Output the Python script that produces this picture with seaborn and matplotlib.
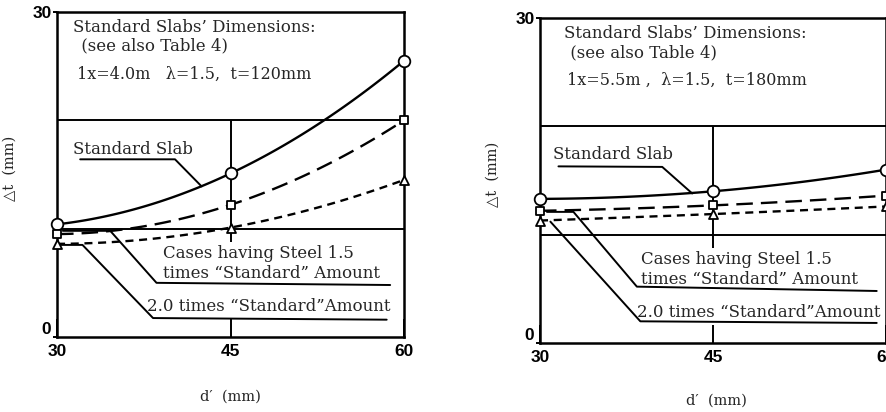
import pandas as pd
import matplotlib
matplotlib.use("Agg")
import matplotlib.pyplot as plt
import seaborn as sns

# Cover thickness d' (mm) and resulting deflection increment Δt (mm)
d_prime = [30, 45, 60]

# Slab lx = 4.0 m, t = 120 mm
std_a = [10.4, 15.1, 25.5]
x15_a = [9.5, 12.2, 20.0]
x20_a = [8.6, 10.1, 14.5]

# Slab lx = 5.5 m, t = 180 mm
std_b = [13.3, 14.0, 16.0]
x15_b = [12.2, 12.7, 13.6]
x20_b = [11.3, 11.9, 12.6]

x_ticks = [30, 45, 60]
y_ticks = [0, 30]
ref_lines = [10, 20]
slab_notes = ["1x=4.0m   λ=1.5,  t=120mm", "1x=5.5m ,  λ=1.5,  t=180mm"]
header = ["Standard Slabs’ Dimensions:", " (see also Table 4)"]

sns.set_theme(style="white")
plt.rcParams["font.family"] = ["DejaVu Serif", "DejaVu Sans"]
TICK_FONT = dict(family=["Liberation Sans Narrow", "Liberation Sans", "DejaVu Sans"],
                 weight="bold", size=12.5)
TXT = 12

fig = plt.figure(figsize=(8.87, 4.12), dpi=100)
ax_a = fig.add_axes([0.0643, 0.182, 0.3912, 0.789])
ax_b = fig.add_axes([0.6088, 0.1675, 0.3900, 0.789])

styles = {
    "std": dict(marker="o", s=70, ls="-"),
    "x15": dict(marker="s", s=34, ls=(0, (7.0, 3.4))),
    "x20": dict(marker="^", s=42, ls=(0, (3.4, 2.4))),
}


def draw_panel(ax, std, x15, x20, note, layout):
    df = pd.DataFrame({
        "d": d_prime * 3,
        "dt": std + x15 + x20,
        "case": ["std"] * 3 + ["x15"] * 3 + ["x20"] * 3,
    })
    for ln in ref_lines:
        ax.axhline(ln, color="black", lw=1.4, zorder=1)
    ax.vlines(45, 8.8, 20, color="black", lw=1.4, zorder=1)

    for case, st in styles.items():
        sub = df[df["case"] == case]
        sns.regplot(data=sub, x="d", y="dt", order=2, ci=None, scatter=False, ax=ax,
                    line_kws=dict(color="black", lw=1.7, ls=st["ls"], zorder=3))
    for case, st in styles.items():
        sub = df[df["case"] == case]
        sns.scatterplot(data=sub, x="d", y="dt", marker=st["marker"], s=st["s"],
                        facecolor="white", edgecolor="black", linewidth=1.3,
                        zorder=5, clip_on=False, ax=ax, legend=False)

    ax.set_xlim(30, 60)
    ax.set_ylim(0, 30)
    ax.set_xticks(x_ticks)
    ax.set_yticks(y_ticks)
    ax.set_xticklabels([str(v) for v in x_ticks], **TICK_FONT)
    ax.set_yticklabels([str(v) for v in y_ticks], **TICK_FONT)
    ax.get_yticklabels()[0].set_va("bottom")
    ax.tick_params(axis="x", direction="in", length=13, width=1.4, pad=5,
                   bottom=True, colors="black")
    ax.tick_params(axis="y", direction="out", length=3, width=1.4, pad=1,
                   left=True, colors="black")
    for sp in ax.spines.values():
        sp.set_visible(True)
        sp.set_color("black")
        sp.set_linewidth(1.8)

    ax.set_xlabel("d′  (mm)", fontsize=10.5)
    ax.set_ylabel("△t  (mm)", fontsize=10.5)
    ax.xaxis.set_label_coords(layout["xlab"][0], layout["xlab"][1])
    ax.yaxis.set_label_coords(layout["ylab"][0], layout["ylab"][1])

    # header block
    (hx1, hy1), (hx2, hy2), (hx3, hy3) = layout["header"]
    ax.text(hx1, hy1, header[0], fontsize=TXT, va="center", ha="left")
    ax.text(hx2, hy2, header[1], fontsize=TXT, va="center", ha="left")
    ax.text(hx3, hy3, note, fontsize=TXT - 0.5, va="center", ha="left")

    # curve labels with leader lines
    sx, sy = layout["std_text"]
    ax.text(sx, sy, "Standard Slab", fontsize=TXT, va="center", ha="left")
    cx, cy = layout["x15_text"]
    ax.text(cx, cy, "Cases having Steel 1.5", fontsize=TXT, va="center", ha="left")
    ax.text(cx, cy - 1.8, "times “Standard” Amount", fontsize=TXT, va="center", ha="left")
    tx, ty = layout["x20_text"]
    ax.text(tx, ty, "2.0 times “Standard”Amount", fontsize=TXT, va="center", ha="left")
    for key in ("std_lead", "x15_lead", "x20_lead"):
        xs, ys = layout[key]
        ax.plot(xs, ys, color="black", lw=1.4, zorder=2, clip_on=False)


layout_a = {
    "xlab": (0.50, -0.163), "ylab": (-0.115, 0.52),
    "header": [(31.4, 28.6), (31.6, 26.9), (31.7, 24.2)],
    "std_text": (31.4, 17.3),
    "x15_text": (39.2, 7.7),
    "x20_text": (37.8, 2.8),
    "std_lead": ([32.0, 40.2, 42.5], [16.4, 16.4, 13.9]),
    "x15_lead": ([58.8, 38.6, 34.6, 30.5], [4.8, 5.0, 9.8, 9.8]),
    "x20_lead": ([58.5, 38.3, 32.2, 30.3], [1.6, 1.75, 8.5, 8.5]),
}
layout_b = {
    "xlab": (0.51, -0.155), "ylab": (-0.116, 0.52),
    "header": [(32.1, 28.6), (32.2, 26.8), (32.3, 24.2)],
    "std_text": (31.1, 17.4),
    "x15_text": (38.8, 7.7),
    "x20_text": (38.4, 2.8),
    "std_lead": ([31.6, 40.6, 43.2], [16.3, 16.25, 13.8]),
    "x15_lead": ([59.2, 38.4, 32.9, 30.6], [4.8, 5.2, 12.1, 12.1]),
    "x20_lead": ([59.2, 38.7, 30.9], [1.85, 2.0, 11.2]),
}

draw_panel(ax_a, std_a, x15_a, x20_a, slab_notes[0], layout_a)
draw_panel(ax_b, std_b, x15_b, x20_b, slab_notes[1], layout_b)

fig.savefig("out.png", dpi=100, facecolor="white")
